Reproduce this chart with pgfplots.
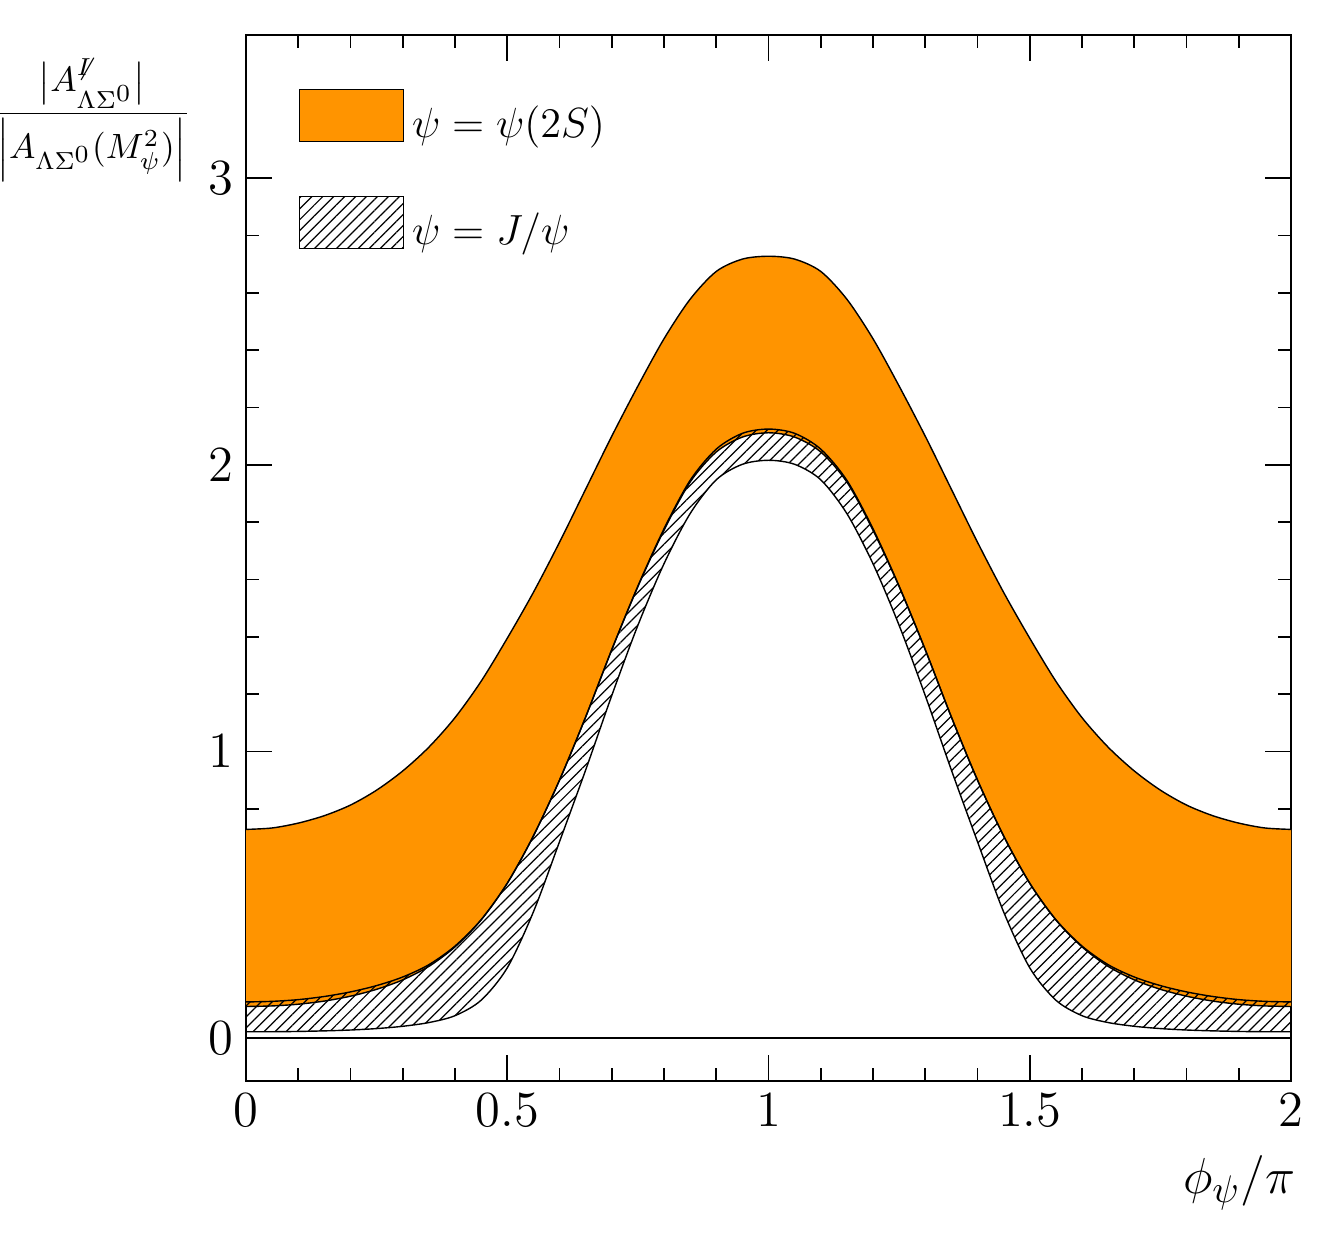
\documentclass[border=0pt]{standalone}
\usepackage{amsmath}
\usepackage{pgfplots}
\pgfplotsset{compat=1.18}
\usepackage{pgfplotstable}
\usepgfplotslibrary{fillbetween}
\usetikzlibrary{patterns.meta, calc}

\definecolor{psiorange}{RGB}{255,148,0}

% psi(2S) band: upper and lower edge
\pgfplotstableread{
x    up    lo
0.00 0.728 0.110
0.05 0.733 0.112
0.10 0.750 0.118
0.15 0.776 0.129
0.20 0.813 0.146
0.25 0.865 0.170
0.30 0.932 0.203
0.35 1.015 0.250
0.40 1.118 0.318
0.45 1.245 0.412
0.50 1.395 0.540
0.55 1.555 0.705
0.60 1.730 0.900
0.65 1.915 1.120
0.70 2.100 1.355
0.75 2.275 1.575
0.80 2.440 1.772
0.85 2.578 1.940
0.90 2.675 2.045
0.95 2.718 2.097
1.00 2.728 2.112
1.05 2.718 2.097
1.10 2.675 2.045
1.15 2.578 1.940
1.20 2.440 1.772
1.25 2.275 1.575
1.30 2.100 1.355
1.35 1.915 1.120
1.40 1.730 0.900
1.45 1.555 0.705
1.50 1.395 0.540
1.55 1.245 0.412
1.60 1.118 0.318
1.65 1.015 0.250
1.70 0.932 0.203
1.75 0.865 0.170
1.80 0.813 0.146
1.85 0.776 0.129
1.90 0.750 0.118
1.95 0.733 0.112
2.00 0.728 0.110
}\psitwo

% J/psi band
\pgfplotstableread{
x    up    lo
0.00 0.126 0.022
0.05 0.128 0.022
0.10 0.134 0.023
0.15 0.145 0.025
0.20 0.161 0.028
0.25 0.183 0.033
0.30 0.213 0.041
0.35 0.256 0.054
0.40 0.321 0.078
0.45 0.413 0.132
0.50 0.540 0.245
0.55 0.705 0.440
0.60 0.900 0.685
0.65 1.120 0.935
0.70 1.355 1.195
0.75 1.577 1.440
0.80 1.777 1.655
0.85 1.946 1.830
0.90 2.055 1.948
0.95 2.110 2.002
1.00 2.125 2.016
1.05 2.110 2.002
1.10 2.055 1.948
1.15 1.946 1.830
1.20 1.777 1.655
1.25 1.577 1.440
1.30 1.355 1.195
1.35 1.120 0.935
1.40 0.900 0.685
1.45 0.705 0.440
1.50 0.540 0.245
1.55 0.413 0.132
1.60 0.321 0.078
1.65 0.256 0.054
1.70 0.213 0.041
1.75 0.183 0.033
1.80 0.161 0.028
1.85 0.145 0.025
1.90 0.134 0.023
1.95 0.128 0.022
2.00 0.126 0.022
}\jpsi

\begin{document}
\begin{tikzpicture}
\begin{axis}[
    scale only axis,
    width=10.45cm, height=10.46cm,
    xmin=0, xmax=2, ymin=-0.15, ymax=3.5,
    xtick={0,0.5,1,1.5,2}, ytick={0,1,2,3},
    minor x tick num=4, minor y tick num=4,
    major tick length=0.26cm, minor tick length=0.13cm,
    tick style={black, line width=0.45pt},
    axis line style={line width=0.7pt},
    ticklabel style={font=\fontsize{14}{16}\selectfont},
    xticklabel style={/pgf/number format/fixed},
    xlabel={$\phi_\psi/\pi$},
    xlabel style={at={(axis description cs:1.016,-0.0975)}, anchor=east,
        font=\fontsize{15.5}{18}\selectfont},
    ylabel={$\dfrac{\big|A^{\not{I}}_{\Lambda\Sigma^{\scriptstyle 0}}\big|}{\Big|A_{\Lambda\Sigma^{\scriptstyle 0}}(M_\psi^2)\Big|}$},
    ylabel style={at={(axis description cs:-0.1474,0.919)}, anchor=center,
        rotate=-90, font=\fontsize{9.7}{12}\selectfont},
    legend style={at={(axis description cs:0.0498,0.9493)}, anchor=north west,
        draw=none, fill=none, inner sep=0pt, row sep=0.53cm,
        nodes={inner sep=0pt}, font=\fontsize{13.2}{16}\selectfont},
    legend cell align=left,
]
% psi(2S)
\addplot[name path=ou, draw=black, line width=0.4pt, smooth, forget plot]
    table[x=x, y=up]{\psitwo};
\addplot[name path=ol, draw=black, line width=0.4pt, smooth, forget plot]
    table[x=x, y=lo]{\psitwo};
\addplot[fill=psiorange, draw=none, forget plot] fill between[of=ou and ol];

% J/psi
\addplot[name path=ju, draw=black, line width=0.4pt, smooth, forget plot]
    table[x=x, y=up]{\jpsi};
\addplot[name path=jl, draw=black, line width=0.4pt, smooth, forget plot]
    table[x=x, y=lo]{\jpsi};
\addplot[pattern={Lines[angle=45, distance=2.2pt, line width=0.35pt]},
    draw=none, forget plot] fill between[of=ju and jl];

% zero line
\addplot[black, line width=0.4pt, forget plot] coordinates {(0,0) (2,0)};

\addlegendimage{legend image code/.code={
    \draw[fill=psiorange, draw=black, line width=0.4pt] (0cm,-0.17cm) rectangle (1.04cm,0.35cm);}}
\addlegendentry{\hspace{0.08cm}$\psi=\psi(2S)$}
\addlegendimage{legend image code/.code={
    \draw[pattern={Lines[angle=45, distance=2.2pt, line width=0.35pt]}, draw=black, line width=0.4pt] (0cm,-0.17cm) rectangle (1.04cm,0.35cm);}}
\addlegendentry{\hspace{0.08cm}$\psi=J/\psi$}
\end{axis}
\pgfresetboundingbox
\path[use as bounding box] ($(current axis.south west)+(-2.46cm,-1.71cm)$)
    rectangle ($(current axis.north east)+(0.38cm,0.35cm)$);
\end{tikzpicture}
\end{document}
